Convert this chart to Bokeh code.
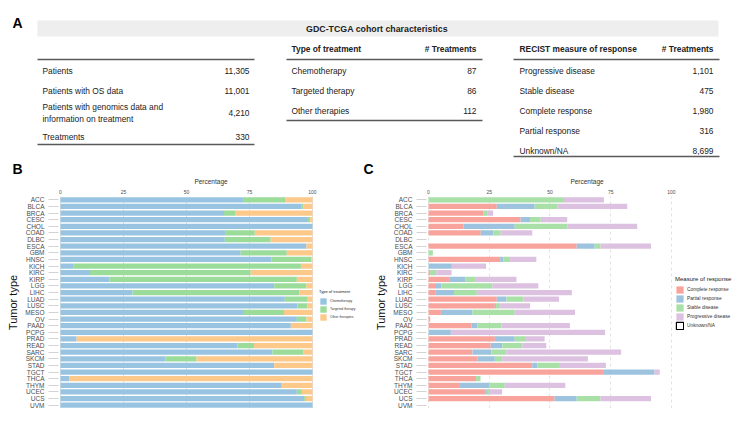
import numpy as np
from bokeh.plotting import figure
from bokeh.models import (ColumnDataSource, Range1d, FactorRange, Legend, LegendItem, FixedTicker)
from bokeh.layouts import column, row
from bokeh.embed import file_html
from bokeh.resources import INLINE
from bokeh.core.properties import value

FONT = "Liberation Sans"

# ---------------- Panel A data ----------------
table_title = "GDC-TCGA cohort characteristics"
summary_labels = ["Patients", "Patients with OS data",
                  "Patients with genomics data and\ninformation on treatment", "Treatments"]
summary_values = [11305, 11001, 4210, 330]
treat_header = ["Type of treatment", "# Treatments"]
treat_types = ["Chemotherapy", "Targeted therapy", "Other therapies"]
treat_counts = [87, 86, 112]
recist_header = ["RECIST measure of response", "# Treatments"]
recist_types = ["Progressive disease", "Stable disease", "Complete response",
                "Partial response", "Unknown/NA"]
recist_counts = [1101, 475, 1980, 316, 8699]

# ---------------- Panel B / C data ----------------
tumors = ["ACC", "BLCA", "BRCA", "CESC", "CHOL", "COAD", "DLBC", "ESCA", "GBM", "HNSC",
          "KICH", "KIRC", "KIRP", "LGG", "LIHC", "LUAD", "LUSC", "MESO", "OV", "PAAD",
          "PCPG", "PRAD", "READ", "SARC", "SKCM", "STAD", "TGCT", "THCA", "THYM", "UCEC",
          "UCS", "UVM"]
x_ticks = [0, 25, 50, 75, 100]

treat_names = ["Chemotherapy", "Targeted therapy", "Other therapies"]
chemo = [72.4, 95.5, 64.9, 98.2, 100, 65.6, 65.2, 97.6, 71.5, 83.8,
         5.0, 11.7, 19.5, 84.8, 28.6, 89.0, 94.0, 72.8, 93.8, 91.4,
         100, 6.4, 70.2, 84.1, 41.7, 84.8, 100, 3.6, 87.8, 93.8,
         96.7, 100]
targeted = [16.7, 0.8, 4.6, 0.9, 0, 11.5, 18.2, 0, 18.3, 15.7,
            90.4, 63.8, 74.3, 12.8, 66.1, 9.1, 4.0, 15.9, 3.8, 0,
            0, 0, 6.6, 12.2, 12.3, 0, 0, 0, 0, 2.0,
            0.7, 0]
other = [10.9, 3.7, 30.5, 0.9, 0, 22.9, 16.6, 2.4, 10.2, 0.5,
         4.6, 24.5, 6.2, 2.4, 5.3, 1.9, 2.0, 11.3, 2.4, 8.6,
         0, 93.6, 23.2, 3.7, 46.0, 15.2, 0, 96.4, 12.2, 4.2,
         2.6, 0]

resp_names = ["Complete response", "Partial response", "Stable disease",
              "Progressive disease", "Unknown/NA"]
complete = [0, 28.1, 22.7, 37.9, 14.4, 21.5, 0, 61.0, 0, 29.5,
            0, 0.7, 8.5, 2.7, 3.0, 28.1, 27.3, 5.1, 0.7, 17.7,
            0, 27.3, 25.6, 18.1, 20.1, 42.7, 72.2, 19.6, 12.6, 23.2,
            51.9, 0]
partial = [0, 15.6, 0, 3.9, 21.1, 5.2, 0, 7.4, 0, 1.3,
           9.6, 0, 6.6, 2.6, 7.5, 4.0, 0.5, 13.0, 0, 2.4,
           9.2, 8.2, 4.8, 7.8, 7.2, 2.1, 20.8, 0, 12.5, 0.8,
           9.1, 0]
stable = [55.8, 9.3, 1.7, 4.4, 21.6, 3.0, 0, 2.4, 1.8, 2.8,
          0, 2.5, 4.4, 21.0, 9.4, 6.9, 1.7, 17.4, 0, 9.9,
          0, 4.6, 8.2, 6.2, 3.1, 8.9, 0, 1.8, 6.3, 0.9,
          9.8, 0]
progressive = [16.4, 28.8, 2.2, 10.9, 28.8, 13.0, 0, 20.8, 0, 10.8,
               14.1, 6.3, 16.7, 18.9, 39.1, 14.7, 12.3, 24.8, 0, 28.2,
               63.5, 7.7, 9.9, 47.2, 35.2, 19.3, 2.2, 0, 24.9, 5.4,
               20.8, 0]
# Unknown/NA share is not drawn in the chart (no value shown)
unknown = [np.nan] * len(tumors)

B_COLORS = ["#98c4e2", "#9bdc9b", "#fdc98a"]
C_COLORS = ["#f9a39d", "#9dc3df", "#a8e0a8", "#dcc1e1"]

TXT = "#222222"

# ---------------- Panel A ----------------
pa = figure(width=747, height=160, x_range=Range1d(0, 747), y_range=Range1d(160, 0),
            output_backend="svg", toolbar_location=None, min_border=0)
pa.axis.visible = False
pa.grid.visible = False
pa.outline_line_color = None


def txt(p, xs, ys, texts, align="left", bold=False, size="8.4px", **kw):
    p.text(x=xs, y=ys, text=texts, text_font=value(FONT), text_font_size=size,
           text_font_style="bold" if bold else "normal", text_align=align,
           text_baseline="middle", text_color=TXT, **kw)


pa.quad(left=[37], right=[718], top=[20], bottom=[36], fill_color="#eeeeee", line_color=None)
txt(pa, [376.5], [28.5], [table_title], align="center", bold=True, size="8.8px")

rule_color = "#5a5a5a"
# left table
left_y = [70, 90, 112, 136]
pa.segment(x0=[37, 37], x1=[254, 254], y0=[59, 144], y1=[59, 144], line_color=rule_color, line_width=1.3)
txt(pa, [42] * len(summary_labels), left_y, summary_labels, text_line_height=1.2)
txt(pa, [249] * len(summary_values), left_y, [f"{v:,}" for v in summary_values], align="right")

# middle table
mid_y = [70 + 20 * i for i in range(len(treat_types))]
pa.segment(x0=[286, 286], x1=[482, 482], y0=[59, 120], y1=[59, 120], line_color=rule_color, line_width=1.3)
txt(pa, [291], [48], [treat_header[0]], bold=True)
txt(pa, [476], [48], [treat_header[1]], align="right", bold=True)
txt(pa, [291] * len(treat_types), mid_y, treat_types)
txt(pa, [476] * len(treat_counts), mid_y, [f"{v:,}" for v in treat_counts], align="right")

# right table
right_y = [70 + 20 * i for i in range(len(recist_types))]
pa.segment(x0=[513, 513], x1=[719, 719], y0=[59, 156], y1=[59, 156], line_color=rule_color, line_width=1.3)
txt(pa, [519], [48], [recist_header[0]], bold=True)
txt(pa, [713], [48], [recist_header[1]], align="right", bold=True)
txt(pa, [519] * len(recist_types), right_y, recist_types)
txt(pa, [713] * len(recist_counts), right_y, [f"{v:,}" for v in recist_counts], align="right")

pa.text(x=[12], y=[22], text=["A"], text_font=value(FONT), text_font_size="14px",
        text_font_style="bold", text_align="left", text_baseline="alphabetic", text_color="#000000")


def style_axes(p, grid_dash, panel_letter, letter_offset):
    p.title.text = panel_letter
    p.title.align = "left"
    p.title.offset = letter_offset
    p.title.standoff = -4.5
    p.title.text_font = FONT
    p.title.text_font_size = "14px"
    p.title.text_font_style = "bold"
    p.title.text_color = "#000000"

    xa = p.xaxis[0]
    xa.axis_label = "Percentage"
    xa.ticker = FixedTicker(ticks=x_ticks)
    xa.axis_line_color = None
    xa.major_tick_line_color = None
    xa.minor_tick_line_color = None
    xa.major_tick_out = 0
    xa.major_tick_in = 0
    xa.minor_tick_out = 0
    xa.minor_tick_in = 0
    xa.major_label_text_font = FONT
    xa.major_label_text_font_size = "5px"
    xa.major_label_text_color = "#4d4d4d"
    xa.major_label_standoff = 3
    xa.axis_label_text_font = FONT
    xa.axis_label_text_font_size = "6.5px"
    xa.axis_label_text_font_style = "normal"
    xa.axis_label_text_color = "#333333"
    xa.axis_label_standoff = 2

    ya = p.yaxis[0]
    ya.axis_label = "Tumor type"
    ya.axis_line_color = None
    ya.major_tick_out = 10
    ya.major_tick_in = 0
    ya.major_tick_line_color = "#d3d3d3"
    ya.major_label_text_font = FONT
    ya.major_label_text_font_size = "6.5px"
    ya.major_label_text_color = "#4d4d4d"
    ya.major_label_standoff = 4
    ya.axis_label_text_font = FONT
    ya.axis_label_text_font_size = "11px"
    ya.axis_label_text_font_style = "normal"
    ya.axis_label_text_color = "#111111"
    ya.axis_label_standoff = 3

    p.ygrid.grid_line_color = None
    p.xgrid.ticker = FixedTicker(ticks=x_ticks)
    p.xgrid.grid_line_color = "#e2e2e2"
    if grid_dash:
        p.xgrid.grid_line_dash = grid_dash
    p.outline_line_color = None


def style_legend(leg, title_size, label_size, glyph):
    leg.title_text_font = FONT
    leg.title_text_font_size = title_size
    leg.title_text_font_style = "normal"
    leg.title_text_color = TXT
    leg.title_standoff = 3
    leg.label_text_font = FONT
    leg.label_text_font_size = label_size
    leg.label_text_color = "#333333"
    leg.glyph_width = glyph
    leg.glyph_height = glyph
    leg.label_height = glyph
    leg.label_width = 10
    leg.label_standoff = 3
    leg.spacing = 0
    leg.padding = 2
    leg.margin = 0
    leg.border_line_color = None
    leg.background_fill_alpha = 0


# ---------------- Panel B ----------------
src_b = ColumnDataSource(dict(tumor=tumors, chemo=chemo, targeted=targeted, other=other))
pb = figure(width=363, height=262, y_range=FactorRange(factors=tumors[::-1], range_padding=0),
            x_range=Range1d(-0.79, 120.24), x_axis_location="above",
            output_backend="svg", toolbar_location=None,
            min_border_left=58, min_border_right=0, min_border_top=35, min_border_bottom=14)
rb = pb.hbar_stack(["chemo", "targeted", "other"], y="tumor", height=0.8, fill_color=B_COLORS,
                   line_color=None, source=src_b)
style_axes(pb, None, "B", -46)
leg_b = Legend(items=[LegendItem(label=n, renderers=[r]) for n, r in zip(treat_names, rb)],
               title="Type of treatment", location=(261, 87))
style_legend(leg_b, "4px", "3.4px", 8)
pb.add_layout(leg_b)

# ---------------- Panel C ----------------
c_keys = ["complete", "partial", "stable", "progressive"]
src_c = ColumnDataSource(dict(tumor=tumors, complete=complete, partial=partial,
                              stable=stable, progressive=progressive, unknown=unknown))
pc = figure(width=384, height=262, y_range=FactorRange(factors=tumors[::-1], range_padding=0),
            x_range=Range1d(-0.82, 131.3), x_axis_location="above",
            output_backend="svg", toolbar_location=None,
            min_border_left=63, min_border_right=0, min_border_top=35, min_border_bottom=14)
rc = pc.hbar_stack(c_keys + ["unknown"], y="tumor", height=0.78,
                   fill_color=C_COLORS + ["white"], line_color=[None] * 4 + ["black"],
                   line_width=1.2, source=src_c)
style_axes(pc, "3 3", "C", -63)
leg_c = Legend(items=[LegendItem(label=n, renderers=[r]) for n, r in zip(resp_names, rc)],
               title="Measure of response", location=(249, 78))
style_legend(leg_c, "6px", "4.8px", 9)
pc.add_layout(leg_c)

layout = column(pa, row(pb, pc))
open("out.html", "w").write(file_html(layout, INLINE))
